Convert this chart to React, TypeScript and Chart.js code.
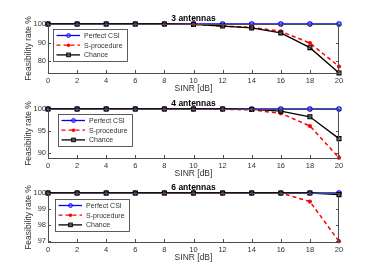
import React, { useEffect, useRef } from "react";
import { Chart, registerables } from "chart.js";

Chart.register(...registerables);

const SINR = [0, 2, 4, 6, 8, 10, 12, 14, 16, 18, 20];
const X_TICKS = [0, 2, 4, 6, 8, 10, 12, 14, 16, 18, 20];

const TITLES = ["3 antennas", "4 antennas", "6 antennas"];

const PERFECT_3 = [100, 100, 100, 100, 100, 100, 100, 100, 100, 100, 100];
const SPROC_3 = [100, 100, 100, 100, 100, 99.8, 98.9, 98.2, 96.1, 89.8, 77.2];
const CHANCE_3 = [100, 100, 100, 100, 100, 99.8, 98.9, 97.9, 95.2, 87.3, 73.75];
const YTICKS_3 = [80, 90, 100];
const YMIN_3 = 73.7;

const PERFECT_4 = [100, 100, 100, 100, 100, 100, 100, 100, 100, 100, 100];
const SPROC_4 = [100, 100, 100, 100, 100, 100, 99.95, 99.8, 99.0, 96.1, 88.8];
const CHANCE_4 = [100, 100, 100, 100, 100, 100, 100, 99.9, 99.5, 98.2, 93.2];
const YTICKS_4 = [90, 95, 100];
const YMIN_4 = 88.75;

const PERFECT_6 = [100, 100, 100, 100, 100, 100, 100, 100, 100, 100, 100];
const SPROC_6 = [100, 100, 100, 100, 100, 100, 100, 100, 100, 99.47, 97.0];
const CHANCE_6 = [100, 100, 100, 100, 100, 100, 100, 100, 100, 100, 99.9];
const YTICKS_6 = [97, 98, 99, 100];
const YMIN_6 = 96.96;

const SERIES_NAMES = ["Perfect CSI", "S-procedure", "Chance"];

const FONT = "'Liberation Sans', Arial, Helvetica, sans-serif";
const AXIS_COLOR = "#4d4d4d";
const TEXT_COLOR = "#333333";

const PANELS = [
  { title: TITLES[0], perfect: PERFECT_3, sproc: SPROC_3, chance: CHANCE_3, yTicks: YTICKS_3, yMin: YMIN_3, top: 0, legendX: 53, legendDY: 5 },
  { title: TITLES[1], perfect: PERFECT_4, sproc: SPROC_4, chance: CHANCE_4, yTicks: YTICKS_4, yMin: YMIN_4, top: 85, legendX: 58, legendDY: 5 },
  { title: TITLES[2], perfect: PERFECT_6, sproc: SPROC_6, chance: CHANCE_6, yTicks: YTICKS_6, yMin: YMIN_6, top: 169, legendX: 55, legendDY: 6 },
];

function drawMarker(ctx: CanvasRenderingContext2D, kind: number, x: number, y: number) {
  ctx.save();
  ctx.setLineDash([]);
  if (kind === 0) {
    ctx.strokeStyle = "#0000ff";
    ctx.fillStyle = "rgba(120,120,255,0.5)";
    ctx.lineWidth = 1;
    ctx.beginPath();
    ctx.arc(x, y, 1.9, 0, Math.PI * 2);
    ctx.fill();
    ctx.stroke();
  } else if (kind === 1) {
    ctx.fillStyle = "#ff0000";
    ctx.beginPath();
    ctx.arc(x, y, 1.8, 0, Math.PI * 2);
    ctx.fill();
  } else {
    ctx.strokeStyle = "#000000";
    ctx.fillStyle = "rgba(90,90,90,0.6)";
    ctx.lineWidth = 1;
    ctx.fillRect(x - 1.8, y - 1.8, 3.6, 3.6);
    ctx.strokeRect(x - 1.8, y - 1.8, 3.6, 3.6);
  }
  ctx.restore();
}

function makeDecorPlugin(panel: any) {
  return {
    id: "decor",
    afterDraw(chart: any) {
      const ctx: CanvasRenderingContext2D = chart.ctx;
      const a = chart.chartArea;
      const xs = chart.scales.x;
      const ys = chart.scales.y;
      ctx.save();
      // box
      ctx.strokeStyle = AXIS_COLOR;
      ctx.lineWidth = 1;
      ctx.strokeRect(Math.round(a.left) + 0.5, Math.round(a.top) + 0.5, Math.round(a.right - a.left) - 1, Math.round(a.bottom - a.top));
      // inward ticks
      ctx.beginPath();
      X_TICKS.forEach((v) => {
        const px = Math.round(xs.getPixelForValue(v)) + 0.5;
        ctx.moveTo(px, a.bottom);
        ctx.lineTo(px, a.bottom - 3);
        ctx.moveTo(px, a.top);
        ctx.lineTo(px, a.top + 3);
      });
      panel.yTicks.forEach((v: number) => {
        const py = Math.round(ys.getPixelForValue(v)) + 0.5;
        ctx.moveTo(a.left, py);
        ctx.lineTo(a.left + 3, py);
        ctx.moveTo(a.right, py);
        ctx.lineTo(a.right - 3, py);
      });
      ctx.stroke();

      // title
      ctx.fillStyle = "#000";
      ctx.font = `bold 8.5px ${FONT}`;
      ctx.textAlign = "center";
      ctx.textBaseline = "middle";
      ctx.fillText(panel.title, (a.left + a.right) / 2, a.top - 5);

      // x label
      ctx.fillStyle = TEXT_COLOR;
      ctx.font = `8.5px ${FONT}`;
      ctx.fillText("SINR [dB]", (a.left + a.right) / 2, a.bottom + 16);

      // y label
      ctx.save();
      ctx.translate(29, (a.top + a.bottom) / 2);
      ctx.rotate(-Math.PI / 2);
      ctx.fillText("Feasibility rate %", 0, 0);
      ctx.restore();

      // legend
      const lx = panel.legendX;
      const ly = a.top + panel.legendDY;
      const lw = 74;
      const lh = 32;
      ctx.fillStyle = "#fff";
      ctx.fillRect(lx, ly, lw, lh);
      ctx.strokeStyle = "#333";
      ctx.lineWidth = 0.8;
      ctx.strokeRect(lx + 0.5, ly + 0.5, lw, lh);
      const colors = ["#0000ff", "#ff0000", "#000000"];
      ctx.font = `7px ${FONT}`;
      ctx.textAlign = "left";
      SERIES_NAMES.forEach((name, i) => {
        const ey = ly + 6.5 + i * 9.7;
        ctx.strokeStyle = colors[i];
        ctx.lineWidth = 1.3;
        ctx.setLineDash(i === 1 ? [4, 3] : []);
        ctx.beginPath();
        ctx.moveTo(lx + 3.5, ey);
        ctx.lineTo(lx + 27, ey);
        ctx.stroke();
        ctx.setLineDash([]);
        drawMarker(ctx, i, lx + 15.5, ey);
        ctx.fillStyle = TEXT_COLOR;
        ctx.fillText(name, lx + 31, ey + 0.5);
      });
      ctx.restore();
    },
  };
}

function Panel({ panel }: { panel: any }) {
  const ref = useRef<HTMLCanvasElement>(null);
  useEffect(() => {
    if (!ref.current) return;
    const toPts = (arr: number[]) => SINR.map((x, i) => ({ x, y: arr[i] }));
    const tickFont = { family: FONT, size: 7.5 };
    const chart = new Chart(ref.current, {
      type: "line",
      data: {
        datasets: [
          {
            label: SERIES_NAMES[0],
            data: toPts(panel.perfect),
            borderColor: "#0000ff",
            borderWidth: 1.5,
            pointStyle: "circle",
            pointRadius: 2.2,
            pointBorderWidth: 1.1,
            pointBorderColor: "#0000ff",
            pointBackgroundColor: "rgba(120,120,255,0.6)",
            order: 3,
            clip: false,
          },
          {
            label: SERIES_NAMES[1],
            data: toPts(panel.sproc),
            borderColor: "#ff0000",
            borderWidth: 1.5,
            borderDash: [4, 3],
            pointStyle: "circle",
            pointRadius: 2.1,
            pointBorderWidth: 0,
            pointBackgroundColor: "#ff0000",
            pointBorderColor: "#ff0000",
            order: 2,
            clip: false,
          },
          {
            label: SERIES_NAMES[2],
            data: toPts(panel.chance),
            borderColor: "#000000",
            borderWidth: 1.3,
            pointStyle: "rect",
            pointRadius: 2.8,
            pointBorderWidth: 1.1,
            pointBorderColor: "#000000",
            pointBackgroundColor: "rgba(90,90,90,0.6)",
            order: 1,
            clip: false,
          },
        ],
      },
      options: {
        responsive: false,
        animation: false,
        layout: { padding: { top: 24, left: 0, right: 35, bottom: 0 } },
        plugins: { legend: { display: false }, tooltip: { enabled: false }, title: { display: false } },
        elements: { line: { tension: 0 } },
        scales: {
          x: {
            type: "linear",
            min: 0,
            max: 20,
            afterBuildTicks: (axis: any) => {
              axis.ticks = X_TICKS.map((v) => ({ value: v }));
            },
            afterFit: (axis: any) => {
              axis.height = 22;
            },
            grid: { display: false, drawTicks: false },
            border: { display: false },
            ticks: { padding: 3, font: tickFont, color: TEXT_COLOR, maxRotation: 0, autoSkip: false },
          },
          y: {
            type: "linear",
            min: panel.yMin,
            max: 100,
            afterBuildTicks: (axis: any) => {
              axis.ticks = panel.yTicks.map((v: number) => ({ value: v }));
            },
            afterFit: (axis: any) => {
              axis.width = 48;
            },
            grid: { display: false, drawTicks: false },
            border: { display: false },
            ticks: { padding: 2, font: tickFont, color: TEXT_COLOR, autoSkip: false },
          },
        },
      } as any,
      plugins: [makeDecorPlugin(panel)],
    });
    return () => chart.destroy();
  }, [panel]);
  return (
    <canvas
      ref={ref}
      width={374}
      height={95}
      style={{ position: "absolute", left: 0, top: panel.top, width: 374, height: 95, display: "block" }}
    />
  );
}

export default function App() {
  return (
    <div style={{ position: "fixed", left: 0, top: 0, width: 374, height: 280, background: "#fff", overflow: "hidden" }}>
      {PANELS.map((p, i) => (
        <Panel key={i} panel={p} />
      ))}
    </div>
  );
}
